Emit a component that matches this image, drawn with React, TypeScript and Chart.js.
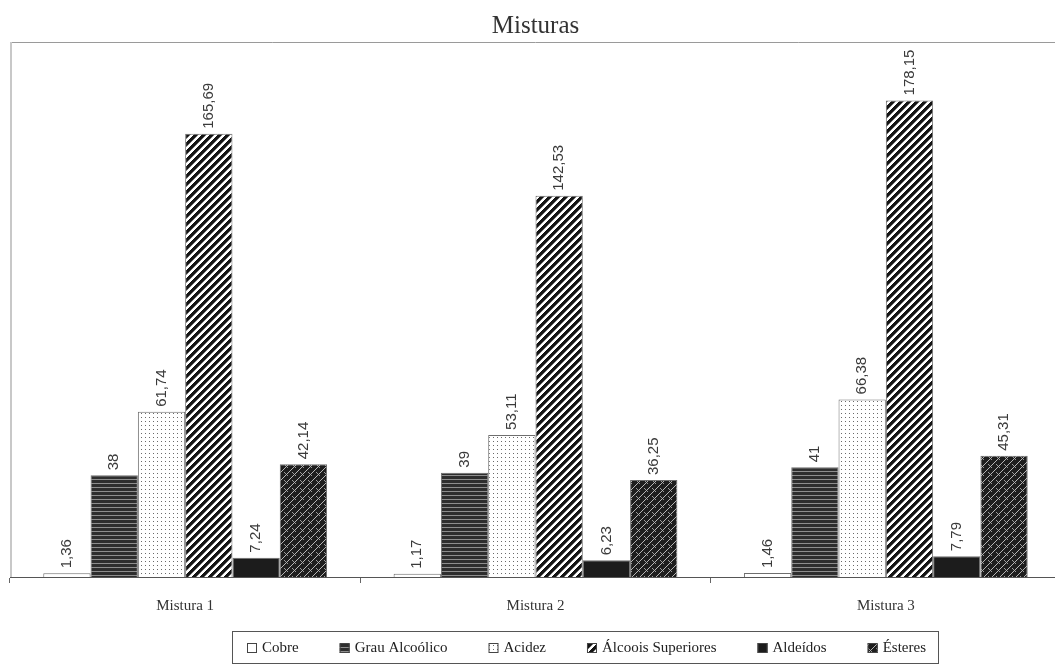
import React, { useEffect, useRef } from "react";
import { Chart, registerables } from "chart.js";

Chart.register(...registerables);

const categories = ["Mistura 1", "Mistura 2", "Mistura 3"];
const seriesNames = ["Cobre", "Grau Alcoólico", "Acidez", "Álcoois Superiores", "Aldeídos", "Ésteres"];
const cobre = [1.36, 1.17, 1.46];
const grauAlcoolico = [38, 39, 41];
const acidez = [61.74, 53.11, 66.38];
const alcooisSuperiores = [165.69, 142.53, 178.15];
const aldeidos = [7.24, 6.23, 7.79];
const esteres = [42.14, 36.25, 45.31];
const yMin = 0;
const yMax = 200;

const SERIF = "'Liberation Serif', 'Times New Roman', serif";
const SANS = "'Liberation Sans', Arial, sans-serif";

function tile(w: number, h: number, paint: (x: number, y: number) => string): CanvasPattern {
  const c = document.createElement("canvas");
  c.width = w;
  c.height = h;
  const ctx = c.getContext("2d")!;
  for (let y = 0; y < h; y++) {
    for (let x = 0; x < w; x++) {
      ctx.fillStyle = paint(x, y);
      ctx.fillRect(x, y, 1, 1);
    }
  }
  return ctx.createPattern(c, "repeat")!;
}

function makeFills(): (string | CanvasPattern)[] {
  const white = "#ffffff";
  const stripes = tile(4, 4, (_x, y) => (y === 3 ? "#8e8e8e" : "#2e2e2e"));
  const dots = tile(4, 4, (x, y) => (x === 1 && y === 1 ? "#6a6a6a" : white));
  const diag = tile(8, 8, (x, y) => {
    const k = (x + y) % 8;
    return k < 4 ? "#141414" : k === 4 ? "#777777" : white;
  });
  const weave = tile(8, 8, (x, y) => {
    if ((x + y) % 8 === 0) return "#b5b5b5";
    if ((x - y + 16) % 8 === 4 && y % 8 < 4) return "#9a9a9a";
    return "#1e1e1e";
  });
  return [white, stripes, dots, diag, "#1c1c1c", weave];
}

const valueLabels = {
  id: "valueLabels",
  afterDatasetsDraw(chart: any) {
    const ctx = chart.ctx;
    ctx.save();
    ctx.font = `15px ${SANS}`;
    ctx.fillStyle = "#3a3a3a";
    ctx.textAlign = "left";
    ctx.textBaseline = "middle";
    chart.data.datasets.forEach((ds: any, i: number) => {
      const meta = chart.getDatasetMeta(i);
      meta.data.forEach((el: any, j: number) => {
        const v = ds.data[j] as number;
        const txt = String(v).replace(".", ",");
        ctx.save();
        ctx.translate(el.x, el.y - 5);
        ctx.rotate(-Math.PI / 2);
        ctx.fillText(txt, 0, 0);
        ctx.restore();
      });
    });
    ctx.restore();
  },
};

const frame = {
  id: "frame",
  beforeDatasetsDraw(chart: any) {
    const { ctx, chartArea } = chart;
    ctx.save();
    ctx.strokeStyle = "#9a9a9a";
    ctx.lineWidth = 1;
    ctx.beginPath();
    ctx.moveTo(chartArea.left, chartArea.top + 0.5);
    ctx.lineTo(chart.width, chartArea.top + 0.5);
    ctx.stroke();
    ctx.strokeStyle = "#c8c8c8";
    ctx.lineWidth = 2;
    ctx.beginPath();
    ctx.moveTo(chartArea.left + 1, chartArea.top);
    ctx.lineTo(chartArea.left + 1, chartArea.bottom);
    ctx.stroke();
    ctx.restore();
  },
};

const boxLegend = {
  id: "boxLegend",
  afterDraw(chart: any) {
    const ctx = chart.ctx;
    const boxLeft = 232;
    const boxRight = 938;
    const boxTop = 631;
    const boxBottom = 663;
    const startX = 247;
    const endX = 926;
    const cy = (boxTop + boxBottom) / 2 + 1;
    const sq = 10;
    const gapText = 5;
    ctx.save();
    ctx.font = `15px ${SERIF}`;
    const datasets = chart.data.datasets;
    const widths = datasets.map((d: any) => ctx.measureText(d.label).width);
    const total = widths.reduce((a: number, b: number) => a + b, 0) + datasets.length * (sq + gapText);
    const gap = (endX - startX - total) / (datasets.length - 1);
    ctx.strokeStyle = "#555";
    ctx.lineWidth = 1;
    ctx.strokeRect(boxLeft + 0.5, boxTop + 0.5, boxRight - boxLeft, boxBottom - boxTop);
    let x = startX;
    datasets.forEach((d: any, i: number) => {
      ctx.fillStyle = d.backgroundColor;
      ctx.fillRect(x, cy - sq / 2, sq, sq);
      ctx.strokeStyle = "#444";
      ctx.strokeRect(x + 0.5, cy - sq / 2 + 0.5, sq - 1, sq - 1);
      ctx.fillStyle = "#222";
      ctx.textAlign = "left";
      ctx.textBaseline = "middle";
      ctx.fillText(d.label, x + sq + gapText, cy);
      x += sq + gapText + widths[i] + gap;
    });
    ctx.restore();
  },
};

export default function App() {
  const ref = useRef<HTMLCanvasElement>(null);
  useEffect(() => {
    document.body.style.margin = "0";
    document.body.style.overflow = "hidden";
    const fills = makeFills();
    const values = [cobre, grauAlcoolico, acidez, alcooisSuperiores, aldeidos, esteres];
    const chart = new Chart(ref.current!, {
      type: "bar",
      data: {
        labels: categories,
        datasets: seriesNames.map((name, i) => ({
          label: name,
          data: values[i],
          backgroundColor: fills[i] as any,
          borderColor: "#6e6e6e",
          borderWidth: 1,
          categoryPercentage: 0.81,
          barPercentage: 1,
        })),
      },
      options: {
        animation: false,
        responsive: false,
        layout: { padding: { left: 10, right: 0, top: 0, bottom: 36 } },
        plugins: {
          title: {
            display: true,
            text: "Misturas",
            font: { family: SERIF, size: 25, weight: "normal" },
            color: "#333",
            padding: { top: 11, bottom: 1 },
          },
          legend: { display: false },
          tooltip: { enabled: false },
        },
        scales: {
          x: {
            grid: { offset: true, drawOnChartArea: false, drawTicks: true, tickLength: 6, color: "#666" },
            border: { color: "#555", width: 1 },
            ticks: { font: { family: SERIF, size: 15 }, color: "#333", padding: 14 },
          },
          y: { display: false, min: yMin, max: yMax },
        },
      },
      plugins: [frame, valueLabels, boxLegend],
    });
    return () => chart.destroy();
  }, []);
  return <canvas ref={ref} width={1061} height={665} style={{ display: "block" }} />;
}
